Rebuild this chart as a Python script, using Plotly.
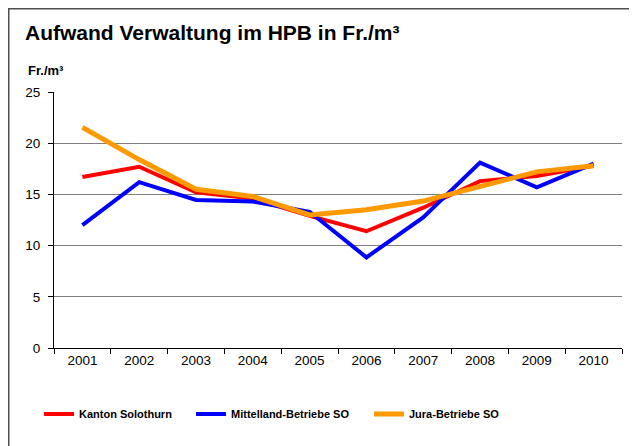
import plotly.graph_objects as go

years = ["2001", "2002", "2003", "2004", "2005", "2006", "2007", "2008", "2009", "2010"]
kanton = [16.7, 17.7, 15.2, 14.6, 12.9, 11.4, 13.7, 16.3, 16.8, 17.8]
mittelland = [12.0, 16.2, 14.45, 14.3, 13.3, 8.85, 12.75, 18.1, 15.7, 18.0]
jura = [21.55, 18.4, 15.5, 14.8, 13.0, 13.5, 14.35, 15.75, 17.2, 17.8]
y_ticks = [0, 5, 10, 15, 20, 25]

FONT = "Arial, Liberation Sans, sans-serif"

# page is offset by the 8px body margin; figure sized to fit the window
W, H = 629, 438
L, R, T, B = 46, 15, 84, 98
pw, ph = W - L - R, H - T - B


def px(x):
    return (x - L) / pw


def py(y):
    return (H - B - y) / ph


fig = go.Figure()
fig.add_trace(go.Scatter(x=years, y=kanton, mode="lines", name="Kanton Solothurn",
                         line=dict(color="#FF0000", width=4), legend="legend"))
fig.add_trace(go.Scatter(x=years, y=mittelland, mode="lines", name="Mittelland-Betriebe SO",
                         line=dict(color="#0000FF", width=4), legend="legend2"))
fig.add_trace(go.Scatter(x=years, y=jura, mode="lines", name="Jura-Betriebe SO",
                         line=dict(color="#FF9900", width=5), legend="legend3"))

leg_font = dict(family=FONT, size=11, color="black", weight="bold")


def leg(xpix):
    return dict(orientation="h", x=px(xpix), y=py(406), xanchor="left", yanchor="middle",
                font=leg_font, bgcolor="rgba(0,0,0,0)")


fig.update_layout(
    width=W, height=H,
    margin=dict(l=L, r=R, t=T, b=B, pad=0),
    paper_bgcolor="white", plot_bgcolor="white",
    font=dict(family=FONT, size=13.5, color="black"),
    showlegend=True,
    legend=leg(31),
    legend2=leg(183),
    legend3=leg(361),
    xaxis=dict(type="category", range=[-0.5, 9.5], showgrid=False, showline=True,
               linecolor="black", linewidth=1,
               ticks="outside", tickson="boundaries", ticklen=5, tickcolor="black",
               tickfont=dict(family=FONT, size=13.5, color="black"), fixedrange=True),
    yaxis=dict(range=[0, 25], tickvals=y_ticks, showgrid=True, gridcolor="#808080", gridwidth=1,
               showline=True, linecolor="black", linewidth=1, zeroline=False,
               ticks="outside", ticklen=5, tickcolor="black", ticklabelstandoff=5,
               tickfont=dict(family=FONT, size=13.5, color="black"), fixedrange=True),
    shapes=[dict(type="rect", xref="paper", yref="paper",
                 x0=px(0.75), x1=px(700), y0=py(500), y1=py(0.75),
                 line=dict(color="#505050", width=1.5), layer="below")],
    annotations=[
        dict(text="<b>Aufwand Verwaltung im HPB in Fr./m³</b>", xref="paper", yref="paper",
             x=px(15), y=py(24), xanchor="left", yanchor="middle", showarrow=False,
             font=dict(family=FONT, size=21, color="black")),
        dict(text="<b>Fr./m³</b>", xref="paper", yref="paper",
             x=px(18), y=py(62), xanchor="left", yanchor="middle", showarrow=False,
             font=dict(family=FONT, size=13, color="black")),
    ],
)

fig.write_html("out.html")
